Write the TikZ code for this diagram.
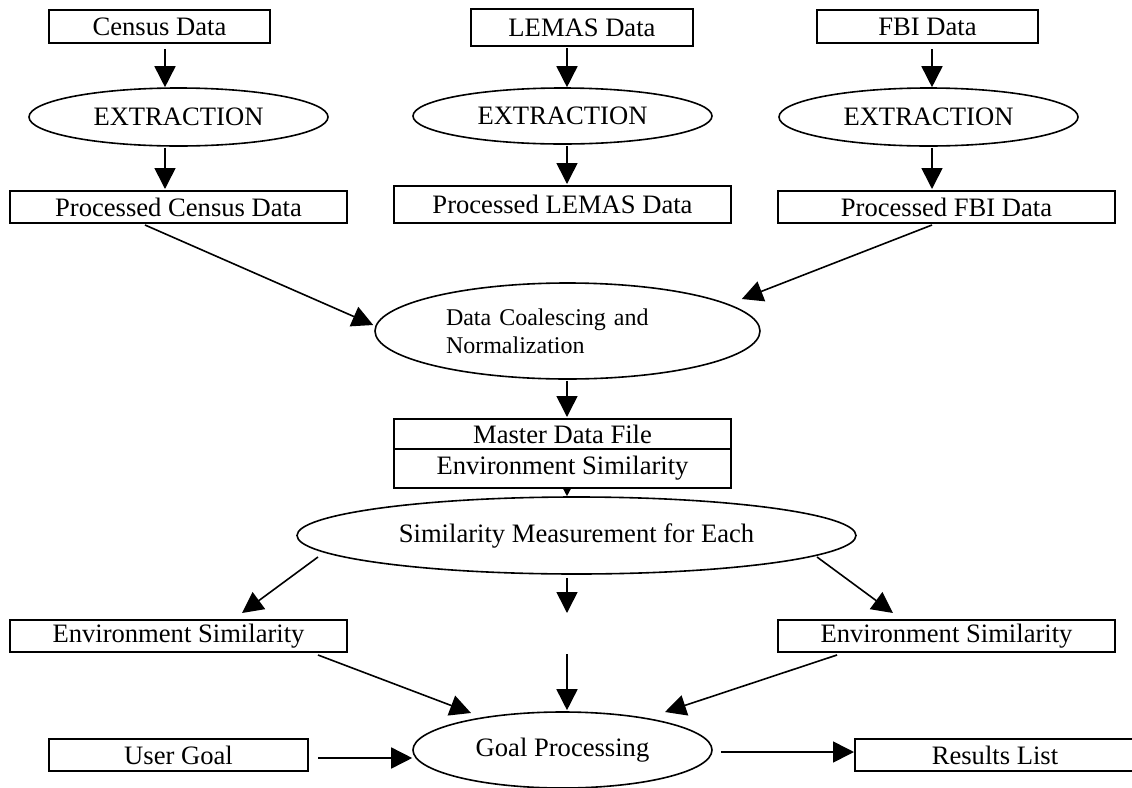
\documentclass[tikz,border=0pt]{standalone}
\usepackage{fontspec}
\setmainfont{Liberation Serif}
\usetikzlibrary{arrows.meta,shapes.geometric,positioning,calc}

\begin{document}
\begin{tikzpicture}[x=0.5pt,y=-0.5pt,
  font=\fontsize{13.3}{16}\selectfont,
  box/.style={draw, line width=1pt, rectangle, inner sep=0pt, minimum width=168.5pt, minimum height=16pt},
  oval/.style={draw, line width=0.8pt, ellipse, inner sep=0pt},
  arr/.style={line width=0.8pt, -{Triangle[length=10.5pt,width=10.5pt]}},
  tinyarr/.style={line width=0.8pt, -{Triangle[length=4.5pt,width=4.5pt]}}]
\useasboundingbox (0,0) rectangle (1132,788);
\clip (0,0) rectangle (1132,788);
\node[box, minimum width=110.5pt, minimum height=16.5pt] (census) at (159.5,26.5) {Census Data};
\node[box, minimum width=111pt, minimum height=18.5pt] (lemas) at (582,27.5) {LEMAS Data};
\node[box, minimum width=110.5pt, minimum height=16.5pt] (fbi) at (927.5,26.5) {FBI Data};
\node[oval, minimum width=149.5pt, minimum height=29pt] (extcensus) at (178.5,117) {EXTRACTION};
\node[oval, minimum width=149.5pt, minimum height=28pt] (extlemas) at (562.5,116) {EXTRACTION};
\node[oval, minimum width=149.5pt, minimum height=29pt] (extfbi) at (928.5,117) {EXTRACTION};
\node[box] (pcensus) at (178.5,207) {Processed Census Data};
\node[box, minimum height=18.5pt] (plemas) at (562.5,204.5) {Processed LEMAS Data};
\node[box] (pfbi) at (946.5,207) {Processed FBI Data};
\node[oval, minimum width=192.5pt, minimum height=48pt, text width=121.5pt, align=left,
  font=\fontsize{12}{14}\selectfont] (coalesce) at (567.5,331) {Data Coalescing and\\Normalization};
\node[box, minimum height=15pt] (master) at (562.5,434) {Master Data File};
\node[box, minimum height=19.5pt] (envsim) at (562.5,468.5) {Environment Similarity};
\node[oval, minimum width=279.5pt, minimum height=38.5pt] (simeach) at (576.5,535.5) {Similarity Measurement for Each};
\node[box] (envleft) at (178.5,636) {Environment Similarity};
\node[box] (envright) at (946.5,636) {Environment Similarity};
\node[box, minimum width=129.5pt] (usergoal) at (178.5,755) {User Goal};
\node[oval, minimum width=149.5pt, minimum height=38pt] (goal) at (562.5,750) {Goal Processing};
\node[box, minimum width=140pt] (results) at (995,755) {Results List};
\coordinate (gaptop) at (567,613);
\coordinate (gapbot) at (567,654);

\draw[arr] ([shift={(5.5,5)}]census.south) -- ([shift={(-13.5,0)}]extcensus.north);
\draw[arr] ([shift={(-13.5,1)}]extcensus.south) -- ([shift={(-13.5,-1)}]pcensus.north);
\draw[arr] ([shift={(-15,1)}]lemas.south) -- ([shift={(4.5,0)}]extlemas.north);
\draw[arr] ([shift={(4.5,1)}]extlemas.south) -- ([shift={(4.5,-1)}]plemas.north);
\draw[arr] ([shift={(4.5,5)}]fbi.south) -- ([shift={(3.5,0)}]extfbi.north);
\draw[arr] ([shift={(3.5,1)}]extfbi.south) -- ([shift={(-14.5,-1)}]pfbi.north);
\draw[arr] ([shift={(-33.5,1)}]pcensus.south) -- ([shift={(-1,-6)}]coalesce.west);
\draw[arr] ([shift={(-14.5,1)}]pfbi.south) -- ([shift={(-19,-32)}]coalesce.east);
\draw[arr] ([shift={(-0.5,1)}]coalesce.south) -- ([shift={(4.5,-1)}]master.north);
\draw[tinyarr] ([shift={(4.5,0)}]envsim.south) -- ([shift={(-9.5,0)}]simeach.north);
\draw[arr] ([shift={(-258.5,21.5)}]simeach.center) -- ([shift={(63.5,-6)}]envleft.north);
\draw[arr] ([shift={(-9.5,3)}]simeach.south) -- (gaptop);
\draw[arr] (gapbot) -- ([shift={(4.5,-1)}]goal.north);
\draw[arr] ([shift={(240.5,21.5)}]simeach.center) -- ([shift={(-53.5,-6)}]envright.north);
\draw[arr] ([shift={(139.5,2)}]envleft.south) -- ([shift={(-91.5,-37)}]goal.center);
\draw[arr] ([shift={(-109.5,2)}]envright.south) -- ([shift={(102.5,-38)}]goal.center);
\draw[arr] ([shift={(9,3)}]usergoal.east) -- ([shift={(0,8)}]goal.west);
\draw[arr] ([shift={(8,2)}]goal.east) -- ([shift={(0,-3)}]results.west);
\end{tikzpicture}
\end{document}
